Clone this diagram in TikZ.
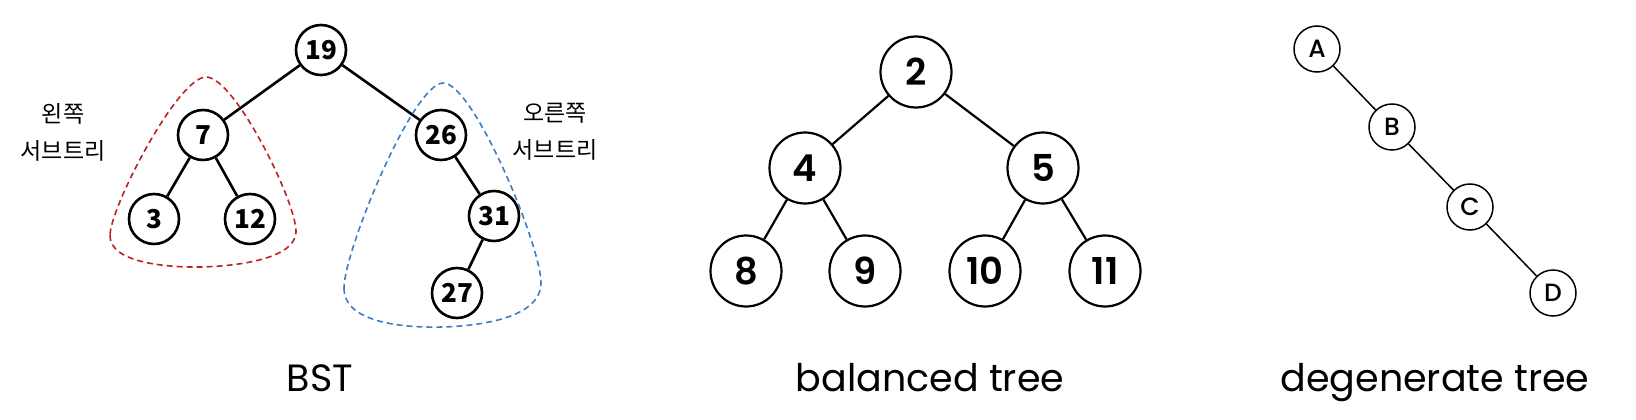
\documentclass[tikz,border=0pt]{standalone}
\usepackage{fontspec}
\setmainfont{Poppins}
\newfontfamily\popmed{Poppins Medium}
\newfontfamily\popsemi{Poppins SemiBold}
\newfontfamily\krfont{Noto Sans CJK KR}
\tikzset{
  bstnode/.style={circle, draw, line width=2.6pt, minimum size=50pt, inner sep=0pt, font=\krfont\bfseries\fontsize{26}{26}\selectfont},
  balnode/.style={circle, draw, line width=2.2pt, minimum size=71pt, inner sep=0pt, font=\popsemi\fontsize{37}{37}\selectfont},
  degnode/.style={circle, draw, line width=1.5pt, minimum size=46pt, inner sep=0pt, font=\popmed\fontsize{25}{25}\selectfont},
  caption/.style={anchor=base, font=\fontsize{38}{38}\selectfont},
  sidelabel/.style={align=center, font=\krfont\fontsize{23}{37}\selectfont},
  subtree/.style={dashed, dash pattern=on 6pt off 4pt, line width=1.6pt, smooth cycle, tension=0.55}
}
\definecolor{leftred}{RGB}{185,35,35}
\definecolor{rightblue}{RGB}{60,125,200}
\begin{document}
\begin{tikzpicture}[x=1pt, y=-1pt]
            \useasboundingbox (0,0) rectangle (1636,420);

            % BST
            \node[bstnode] (n19) at (321,50) {19};
            \node[bstnode] (n7) at (203,135) {7};
            \node[bstnode] (n26) at (441,135) {26};
            \node[bstnode] (n3) at (154,219) {3};
            \node[bstnode] (n12) at (250,219) {12};
            \node[bstnode] (n31) at (494,216) {31};
            \node[bstnode] (n27) at (457,293) {27};
            \draw[line width=2.6pt] (n19) -- (n7) (n19) -- (n26) (n7) -- (n3) (n7) -- (n12) (n26) -- (n31) (n31) -- (n27);

            \draw[subtree, leftred] plot coordinates {(206,77) (110,235) (200,267) (296,232)};
            \draw[subtree, rightblue] plot coordinates {(443,83) (344,288) (442,327) (541,283)};

            \node[sidelabel] (leftlbl) at (63,132) {왼쪽\\서브트리};
            \node[sidelabel] (rightlbl) at (555,132) {오른쪽\\서브트리};
            \node[caption] (bstcap) at (320,391) {BST};

            % balanced tree
            \node[balnode] (b2) at (916,72) {2};
            \node[balnode] (b4) at (805,168) {4};
            \node[balnode] (b5) at (1043,168) {5};
            \node[balnode] (b8) at (746,271) {8};
            \node[balnode] (b9) at (865,271) {9};
            \node[balnode] (b10) at (985,271) {10};
            \node[balnode] (b11) at (1105,271) {11};
            \draw[line width=2.2pt] (b2) -- (b4) (b2) -- (b5) (b4) -- (b8) (b4) -- (b9) (b5) -- (b10) (b5) -- (b11);
            \node[caption] (balcap) at (930,391) {balanced tree};

            % degenerate tree
            \node[degnode] (dA) at (1317,49) {A};
            \node[degnode] (dB) at (1392,127) {B};
            \node[degnode] (dC) at (1470,207) {C};
            \node[degnode] (dD) at (1553,293) {D};
            \draw[line width=1.5pt] (dA) -- (dB) -- (dC) -- (dD);
            \node[caption] (degcap) at (1435,391) {degenerate tree};
        \end{tikzpicture}
\end{document}
